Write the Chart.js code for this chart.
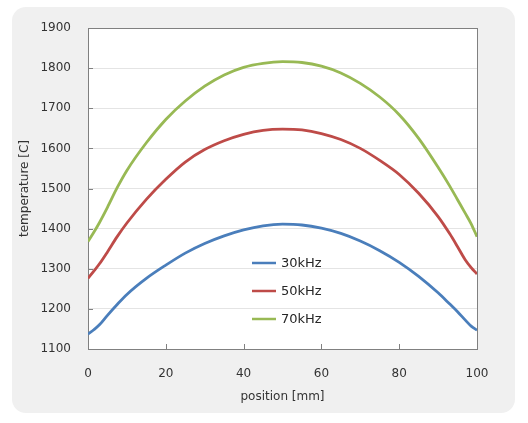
<!DOCTYPE html>
<html>
<head>
<meta charset="utf-8">
<script src="https://cdn.jsdelivr.net/npm/chart.js@4.4.0/dist/chart.umd.min.js"></script>
<style>
  html, body { margin: 0; padding: 0; background: #fff; }
  #wrap { width: 528px; height: 423px; }
</style>
</head>
<body>
<div id="wrap"><canvas id="chart"></canvas></div>
<script>
// position along the part [mm]
const positions = [0, 1.5, 3, 5, 7.5, 10, 15, 20, 25, 30, 35, 40, 45, 50, 55, 60, 65, 70, 75, 80, 85, 90, 93, 95, 97, 98.5, 100]

// temperature [C] per frequency
const temp30 = [1137, 1148, 1161, 1184, 1211, 1236, 1276, 1309, 1339, 1363, 1382, 1397, 1407, 1411, 1409, 1401, 1388, 1369, 1345, 1316, 1281, 1240, 1212, 1193, 1172, 1157, 1147]
const temp50 = [1276, 1294, 1313, 1342, 1380, 1414, 1473, 1523, 1566, 1597, 1619, 1635, 1645, 1648, 1646, 1637, 1622, 1600, 1570, 1535, 1488, 1430, 1387, 1355, 1322, 1303, 1287]
const temp70 = [1368, 1391, 1416, 1453, 1502, 1545, 1614, 1672, 1718, 1755, 1783, 1802, 1812, 1816, 1814, 1805, 1788, 1762, 1728, 1684, 1625, 1553, 1506, 1472, 1438, 1412, 1380]

const seriesLabels = ['30kHz', '50kHz', '70kHz']
const seriesColors = ['#4a7ebb', '#be4b48', '#98b954']

const xTicks = [0, 20, 40, 60, 80, 100]
const yTicks = [1100, 1200, 1300, 1400, 1500, 1600, 1700, 1800, 1900]

const FONT = '"DejaVu Sans", Verdana, sans-serif'

const toPoints = (ys) => ys.map((y, i) => ({ x: positions[i], y }))

const framePlugin = {
  id: 'frame',
  beforeDraw(chart) {
    const { ctx, chartArea: a, width, height } = chart
    ctx.save()
    ctx.fillStyle = '#ffffff'
    ctx.fillRect(0, 0, width, height)
    ctx.fillStyle = '#f0f0f0'
    ctx.beginPath()
    ctx.roundRect(12, 7, 503, 406, 14)
    ctx.fill()
    ctx.fillStyle = '#ffffff'
    ctx.fillRect(a.left, a.top, a.right - a.left, a.bottom - a.top)
    ctx.restore()
  },
  beforeDatasetsDraw(chart) {
    const { ctx, chartArea: a, scales } = chart
    ctx.save()
    ctx.strokeStyle = '#808080'
    ctx.lineWidth = 1
    // inward tick marks
    ctx.beginPath()
    xTicks.slice(1, -1).forEach(v => {
      const px = Math.round(scales.x.getPixelForValue(v)) + 0.5
      ctx.moveTo(px, a.bottom)
      ctx.lineTo(px, a.bottom - 5)
    })
    yTicks.slice(1, -1).forEach(v => {
      const py = Math.round(scales.y.getPixelForValue(v)) + 0.5
      ctx.moveTo(a.left, py)
      ctx.lineTo(a.left + 5, py)
    })
    ctx.stroke()
    ctx.strokeRect(Math.round(a.left) + 0.5, Math.round(a.top) + 0.5,
      Math.round(a.right - a.left), Math.round(a.bottom - a.top))
    ctx.restore()
  },
  afterDatasetsDraw(chart) {
    // legend sits inside the plot
    const { ctx, chartArea: a } = chart
    ctx.save()
    ctx.font = '13px ' + FONT
    ctx.textBaseline = 'middle'
    ctx.textAlign = 'left'
    seriesLabels.forEach((label, i) => {
      const y = a.top + 235 + i * 28
      ctx.strokeStyle = seriesColors[i]
      ctx.lineWidth = 2.5
      ctx.beginPath()
      ctx.moveTo(a.left + 164, y)
      ctx.lineTo(a.left + 188, y)
      ctx.stroke()
      ctx.fillStyle = '#262626'
      ctx.fillText(label, a.left + 193, y + 0.5)
    })
    ctx.restore()
  }
}

new Chart(document.getElementById('chart'), {
  type: 'line',
  data: {
    datasets: [temp30, temp50, temp70].map((ys, i) => ({
      label: seriesLabels[i],
      data: toPoints(ys),
      borderColor: seriesColors[i],
      backgroundColor: seriesColors[i],
      borderWidth: 2.8,
      pointRadius: 0,
      cubicInterpolationMode: 'monotone',
      fill: false
    }))
  },
  options: {
    responsive: true,
    maintainAspectRatio: false,
    animation: false,
    layout: {
      padding: { top: 28, right: 51, left: 0, bottom: 0 }
    },
    scales: {
      x: {
        type: 'linear',
        min: 0,
        max: 100,
        afterFit: (s) => { s.height = 74 },
        afterBuildTicks: (s) => { s.ticks = xTicks.map(v => ({ value: v })) },
        grid: { display: false, drawTicks: false },
        border: { display: false },
        ticks: {
          padding: 18,
          color: '#333',
          font: { family: FONT, size: 12 },
          callback: (v) => String(v)
        },
        title: {
          display: true,
          text: 'position [mm]',
          color: '#333',
          font: { family: FONT, size: 12 },
          padding: { top: 0, bottom: 19 }
        }
      },
      y: {
        type: 'linear',
        min: 1100,
        max: 1900,
        afterFit: (s) => { s.width = 88 },
        afterBuildTicks: (s) => { s.ticks = yTicks.map(v => ({ value: v })) },
        grid: { color: '#e4e4e4', drawTicks: false },
        border: { display: false },
        ticks: {
          padding: 17,
          color: '#333',
          font: { family: FONT, size: 12 },
          callback: (v) => String(v)
        },
        title: {
          display: true,
          text: 'temperature [C]',
          color: '#333',
          font: { family: FONT, size: 12 },
          padding: { top: 18, bottom: 0 }
        }
      }
    },
    plugins: {
      legend: { display: false },
      tooltip: { enabled: false }
    }
  },
  plugins: [framePlugin]
})
</script>
</body>
</html>
